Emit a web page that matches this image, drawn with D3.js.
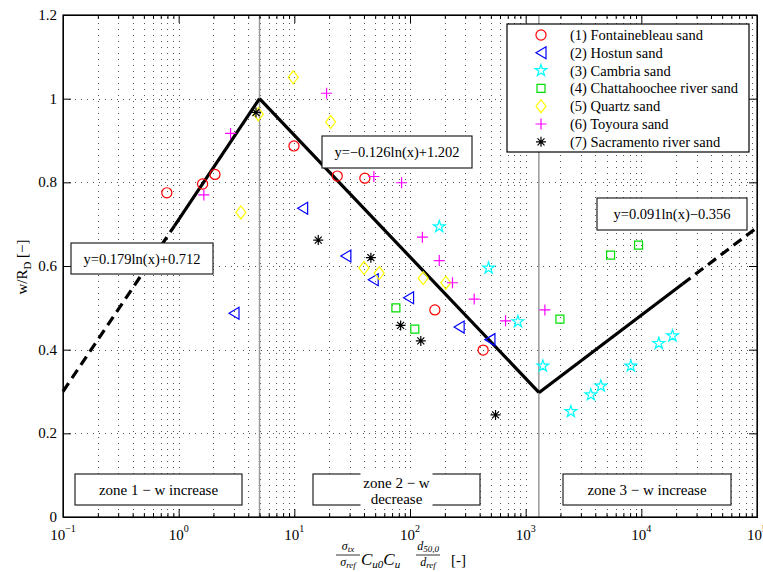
<!DOCTYPE html>
<html>
<head>
<meta charset="utf-8">
<script src="https://cdn.jsdelivr.net/npm/d3@7"></script>
<style>
  body { margin: 0; background: #fff; }
  svg text { font-family: "Liberation Serif", "DejaVu Serif", "Times New Roman", serif; fill: #000; }
</style>
</head>
<body>
<script>
// Series (x is log scale, y = w/R_D)
var seriesNames = [
  "(1) Fontainebleau sand", "(2) Hostun sand", "(3) Cambria sand",
  "(4) Chattahoochee river sand", "(5) Quartz sand", "(6) Toyoura sand",
  "(7) Sacramento river sand"
];
var fontX = [0.79, 1.61, 2.06, 9.93, 23.5, 40.7, 164, 429];
var fontY = [0.775, 0.796, 0.819, 0.887, 0.815, 0.810, 0.495, 0.399];
var hostX = [3.01, 11.8, 27.9, 48.1, 97.2, 266, 491];
var hostY = [0.487, 0.738, 0.624, 0.567, 0.524, 0.454, 0.424];
var cambX = [179, 478, 857, 1408, 2459, 3661, 4467, 8110, 14160, 18600];
var cambY = [0.694, 0.595, 0.467, 0.361, 0.252, 0.292, 0.313, 0.361, 0.415, 0.433];
var chatX = [75.5, 110, 1977, 5420, 9460];
var chatY = [0.500, 0.449, 0.473, 0.626, 0.650];
var quarX = [3.45, 4.88, 9.79, 20.6, 40.0, 54.2, 130, 204];
var quarY = [0.728, 0.963, 1.051, 0.944, 0.595, 0.583, 0.571, 0.560];
var toyoX = [1.65, 2.81, 19.0, 48.7, 84.6, 128, 179, 233, 359, 670, 1466];
var toyoY = [0.770, 0.917, 1.013, 0.814, 0.799, 0.669, 0.613, 0.560, 0.521, 0.469, 0.495];
var sacrX = [4.66, 16.1, 45.9, 83.0, 124, 549];
var sacrY = [0.967, 0.662, 0.620, 0.458, 0.421, 0.244];

// Fitted lines, as end points (x, y)
var fitSolid = [
  [[0.92, 0.696], [5, 1.000]],
  [[5, 1.000], [1300, 0.298]],
  [[1300, 0.297], [22700, 0.557]]
];
var fitDashed = [
  [[0.1, 0.300], [0.92, 0.696]],
  [[22700, 0.557], [1e5, 0.692]]
];
var zoneBounds = [5, 1300];

var xMajor = [0.1, 1, 10, 100, 1000, 1e4, 1e5];
var xExponents = ["\u22121", "0", "1", "2", "3", "4", "5"];
var yTicks = [0, 0.2, 0.4, 0.6, 0.8, 1, 1.2];
var yTickLabels = ["0", "0.2", "0.4", "0.6", "0.8", "1", "1.2"];

var fitLabels = ["y=0.179ln(x)+0.712", "y=\u22120.126ln(x)+1.202", "y=0.091ln(x)\u22120.356"];
var zoneLabels = [["zone 1 \u2212 w increase"], ["zone 2 \u2212 w", "decrease"], ["zone 3 \u2212 w increase"]];

var svgWidth = 763;
var svgHeight = 572;
var chartMargin = { top: 15, right: 6, bottom: 55, left: 63 };
var chartWidth = svgWidth - chartMargin.left - chartMargin.right;
var chartHeight = svgHeight - chartMargin.top - chartMargin.bottom;

var svg = d3.select("body").append("svg")
  .attr("width", svgWidth)
  .attr("height", svgHeight)
  .attr("font-family", "Liberation Serif, DejaVu Serif, serif");

var chartGroup = svg.append("g")
  .attr("transform", `translate(${chartMargin.left}, ${chartMargin.top})`);

var xScale = d3.scaleLog().domain([0.1, 1e5]).range([0, chartWidth]);
var yScale = d3.scaleLinear().domain([0, 1.2]).range([chartHeight, 0]);

// minor x ticks 2..9 in every decade
var xMinor = [];
for (var k = -1; k < 5; k++) {
  for (var m = 2; m < 10; m++) xMinor.push(m * Math.pow(10, k));
}

// grid
var grid = chartGroup.append("g").attr("stroke", "#555").attr("stroke-dasharray", "1,5")
  .attr("shape-rendering", "crispEdges");
grid.selectAll(".vg").data(xMajor.slice(1, -1).concat(xMinor)).enter().append("line")
  .attr("x1", d => Math.round(xScale(d)) + 0.5).attr("x2", d => Math.round(xScale(d)) + 0.5)
  .attr("y1", 2).attr("y2", chartHeight);
grid.selectAll(".hg").data(yTicks.slice(1, -1)).enter().append("line")
  .attr("x1", 0).attr("x2", chartWidth)
  .attr("y1", d => Math.round(yScale(d)) + 0.5).attr("y2", d => Math.round(yScale(d)) + 0.5);

// zone boundaries
chartGroup.selectAll(".zb").data(zoneBounds).enter().append("line")
  .attr("x1", d => xScale(d)).attr("x2", d => xScale(d))
  .attr("y1", 0).attr("y2", chartHeight)
  .attr("stroke", "#999").attr("stroke-width", 1.5);

// axes with inward ticks
function noLabel(a) { return a.tickFormat("").tickSizeOuter(0); }
chartGroup.append("g").attr("transform", `translate(0, ${chartHeight})`)
  .call(noLabel(d3.axisBottom(xScale).tickValues(xMajor).tickSize(-8)));
chartGroup.append("g").attr("transform", `translate(0, ${chartHeight})`)
  .call(noLabel(d3.axisBottom(xScale).tickValues(xMinor).tickSize(-4)));
chartGroup.append("g")
  .call(noLabel(d3.axisTop(xScale).tickValues(xMajor).tickSize(-8)));
chartGroup.append("g")
  .call(noLabel(d3.axisTop(xScale).tickValues(xMinor).tickSize(-4)));
chartGroup.append("g")
  .call(noLabel(d3.axisLeft(yScale).tickValues(yTicks).tickSize(-8)));
chartGroup.append("g").attr("transform", `translate(${chartWidth}, 0)`)
  .call(noLabel(d3.axisRight(yScale).tickValues(yTicks).tickSize(-8)));
chartGroup.selectAll(".tick line").attr("stroke", "#000");

chartGroup.append("rect")
  .attr("width", chartWidth).attr("height", chartHeight)
  .attr("fill", "none").attr("stroke", "#000").attr("stroke-width", 1.2);

// tick labels
chartGroup.selectAll(".ylab").data(yTicks).enter().append("text")
  .attr("x", -6).attr("y", d => yScale(d) + 5)
  .attr("text-anchor", "end").style("font-size", "15px")
  .text((d, i) => yTickLabels[i]);

var xl = chartGroup.selectAll(".xlab").data(xMajor).enter().append("text")
  .attr("x", d => xScale(d)).attr("y", chartHeight + 23)
  .attr("text-anchor", "middle").style("font-size", "15px");
xl.append("tspan").text("10");
xl.append("tspan").attr("dy", -8).style("font-size", "10px").text((d, i) => xExponents[i]);

// fitted lines
var lineGen = d3.line().x(d => xScale(d[0])).y(d => yScale(d[1]));
chartGroup.selectAll(".fit").data(fitSolid).enter().append("path")
  .attr("d", lineGen).attr("fill", "none").attr("stroke", "#000").attr("stroke-width", 3.2);
chartGroup.selectAll(".fitd").data(fitDashed).enter().append("path")
  .attr("d", lineGen).attr("fill", "none").attr("stroke", "#000").attr("stroke-width", 3.2)
  .attr("stroke-dasharray", "10,6");

// markers
var shapes = [
  d3.symbol(d3.symbolCircle, 80)(),
  "M-5,0L5,-6L5,6Z",
  d3.symbol(d3.symbolStar, 42)(),
  "M-4,-4H4V4H-4Z",
  "M0,-6.5L5,0L0,6.5L-5,0Z",
  "M-5.5,0H5.5M0,-5.5V5.5",
  "M-5,0H5M0,-5V5M-3.5,-3.5L3.5,3.5M-3.5,3.5L3.5,-3.5"
];
var colors = ["#ff0000", "#0000ff", "#00ffff", "#00e000", "#ffff00", "#ff00ff", "#000000"];
var seriesX = [fontX, hostX, cambX, chatX, quarX, toyoX, sacrX];
var seriesY = [fontY, hostY, cambY, chatY, quarY, toyoY, sacrY];

seriesX.forEach(function(xs, s) {
  var pts = xs.map((v, i) => [v, seriesY[s][i]]);
  chartGroup.append("g").selectAll("path").data(pts).enter().append("path")
    .attr("d", shapes[s])
    .attr("transform", d => `translate(${xScale(d[0])}, ${yScale(d[1])})`)
    .attr("fill", "none").attr("stroke", colors[s]).attr("stroke-width", 1.2);
});

// equation boxes
var eqBoxes = [[8, 228, 142, 31], [259, 121, 150, 32], [534, 183, 150, 32]];
eqBoxes.forEach(function(b, i) {
  chartGroup.append("rect").attr("x", b[0]).attr("y", b[1]).attr("width", b[2]).attr("height", b[3])
    .attr("fill", "#fff").attr("stroke", "#222").attr("stroke-width", 1.2);
  chartGroup.append("text").attr("x", b[0] + b[2] / 2).attr("y", b[1] + b[3] / 2 + 5)
    .attr("text-anchor", "middle").style("font-size", "14.5px").text(fitLabels[i]);
});

// zone boxes
var zoneBoxes = [[12, 459, 167, 31], [250, 459, 167, 31], [500, 459, 168, 31]];
zoneBoxes.forEach(function(b, i) {
  chartGroup.append("rect").attr("x", b[0]).attr("y", b[1]).attr("width", b[2]).attr("height", b[3])
    .attr("fill", "#fff").attr("stroke", "#222").attr("stroke-width", 1.2);
  var lines = zoneLabels[i];
  var cx = b[0] + b[2] / 2;
  if (lines.length === 1) {
    chartGroup.append("text").attr("x", cx).attr("y", b[1] + b[3] / 2 + 5)
      .attr("text-anchor", "middle").style("font-size", "15px").text(lines[0]);
  } else {
    chartGroup.append("rect").attr("x", cx - 36).attr("y", b[1] - 3).attr("width", 72).attr("height", b[3] + 7)
      .attr("fill", "#fff");
    lines.forEach(function(t, j) {
      chartGroup.append("text").attr("x", cx).attr("y", b[1] + 14 + j * 16)
        .attr("text-anchor", "middle").style("font-size", "15px").text(t);
    });
  }
});

// legend
var legend = chartGroup.append("g").attr("transform", "translate(444, 9)");
legend.append("rect").attr("width", 242).attr("height", 128)
  .attr("fill", "#fff").attr("stroke", "#000").attr("stroke-width", 1.2);
seriesNames.forEach(function(name, i) {
  var yy = 11 + i * 17.8;
  legend.append("path").attr("d", shapes[i]).attr("transform", `translate(34, ${yy})`)
    .attr("fill", "none").attr("stroke", colors[i]).attr("stroke-width", 1.2);
  legend.append("text").attr("x", 63).attr("y", yy + 5).style("font-size", "14.5px").text(name);
});

// y axis title
var yt = svg.append("text").attr("transform", "translate(27, 267) rotate(-90)")
  .attr("text-anchor", "middle").style("font-size", "15px");
yt.append("tspan").text("w/R");
yt.append("tspan").attr("dy", 4).style("font-size", "11px").text("D");
yt.append("tspan").attr("dy", -4).text(" [\u2212]");

// x axis title: fraction, C_u0 C_u, fraction, [-]
var xt = svg.append("g").style("font-style", "italic");
function frac(cx, num, numSub, den, denSub) {
  var n = xt.append("text").attr("x", cx).attr("y", 550).attr("text-anchor", "middle").style("font-size", "12px");
  n.append("tspan").text(num);
  n.append("tspan").attr("dy", 2).style("font-size", "9px").text(numSub);
  xt.append("line").attr("x1", cx - 12).attr("x2", cx + 12).attr("y1", 555).attr("y2", 555)
    .attr("stroke", "#000").attr("stroke-width", 0.8);
  var d = xt.append("text").attr("x", cx).attr("y", 566).attr("text-anchor", "middle").style("font-size", "12px");
  d.append("tspan").text(den);
  d.append("tspan").attr("dy", 2).style("font-size", "9px").text(denSub);
}
frac(348, "\u03c3", "tx", "\u03c3", "ref");
var cu = xt.append("text").attr("x", 361).attr("y", 565).style("font-size", "17px");
cu.append("tspan").text("C");
cu.append("tspan").attr("dy", 3).style("font-size", "11px").text("u0");
cu.append("tspan").attr("dy", -3).text("C");
cu.append("tspan").attr("dy", 3).style("font-size", "11px").text("u");
frac(428, "d", "50,0", "d", "ref");
svg.append("text").attr("x", 451).attr("y", 565).style("font-size", "15px").text("[-]");
</script>
</body>
</html>
